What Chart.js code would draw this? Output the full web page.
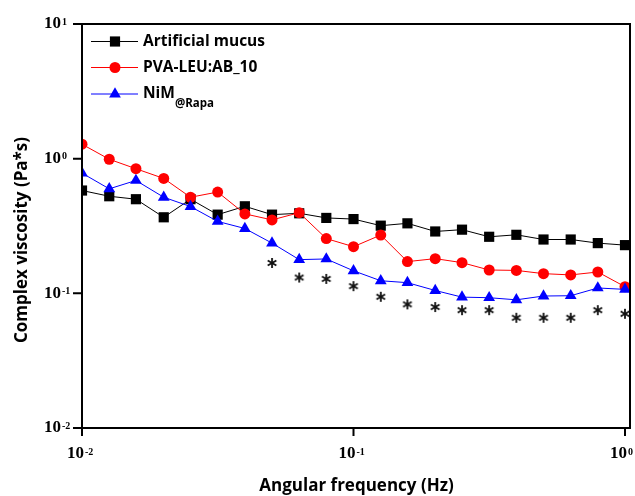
<!DOCTYPE html>
<html>
<head>
<meta charset="utf-8">
<script src="https://cdn.jsdelivr.net/npm/chart.js@4.4.1/dist/chart.umd.min.js"></script>
<style>
  html, body { margin: 0; padding: 0; background: #fff; }
  #wrap { width: 635px; height: 496px; position: relative; }
</style>
</head>
<body>
<div id="wrap"><canvas id="c"></canvas></div>
<script>
// angular frequency (Hz), 10 points per decade
const freq = [0.01, 0.0126, 0.0158, 0.02, 0.0251, 0.0316, 0.0398, 0.0501, 0.0631, 0.0794,
              0.1, 0.126, 0.158, 0.2, 0.251, 0.316, 0.398, 0.501, 0.631, 0.794, 1];
const mucus  = [0.58, 0.526, 0.50, 0.367, 0.50, 0.384, 0.443, 0.384, 0.393, 0.363,
                0.356, 0.318, 0.331, 0.288, 0.297, 0.263, 0.272, 0.251, 0.251, 0.236, 0.228];
const pvaLeu = [1.28, 0.99, 0.842, 0.713, 0.517, 0.565, 0.389, 0.351, 0.397, 0.255,
                0.222, 0.271, 0.172, 0.181, 0.169, 0.149, 0.148, 0.140, 0.137, 0.144, 0.112];
const nim    = [0.781, 0.597, 0.689, 0.517, 0.441, 0.342, 0.303, 0.236, 0.178, 0.180,
                0.147, 0.124, 0.120, 0.105, 0.0937, 0.0928, 0.0895, 0.0955, 0.096, 0.1096, 0.107];
// significance marks (*) under NiM
const starFreq  = [0.0501, 0.0631, 0.0794, 0.1, 0.126, 0.158, 0.2, 0.251, 0.316, 0.398, 0.501, 0.631, 0.794, 1];
const starLevel = [0.168, 0.131, 0.128, 0.113, 0.0943, 0.0828, 0.0791, 0.075, 0.075, 0.0658, 0.0658, 0.0658, 0.075, 0.0705];

const seriesNames = ["Artificial mucus", "PVA-LEU:AB_10", "NiM"];
const xTicks = [0.01, 0.1, 1];
const xTickExp = ["-2", "-1", "0"];
const yTicks = [0.01, 0.1, 1, 10];
const yTickExp = ["-2", "-1", "0", "1"];

function pts(xs, ys) { return xs.map((x, i) => ({ x: x, y: ys[i] })); }

// little asterisk marker
const star = document.createElement("canvas");
star.width = 12; star.height = 12;
(function () {
  const c = star.getContext("2d");
  c.strokeStyle = "#111"; c.lineWidth = 1.8; c.lineCap = "butt";
  [90, 30, 150].forEach(a => {
    const r = a * Math.PI / 180, dx = Math.cos(r) * 5, dy = Math.sin(r) * 5;
    c.beginPath(); c.moveTo(6 - dx, 6 - dy); c.lineTo(6 + dx, 6 + dy); c.stroke();
  });
})();

function pow10(ctx, x, y, exp) {
  ctx.save();
  ctx.fillStyle = "#000";
  ctx.textBaseline = "middle";
  ctx.font = "bold 17px 'Liberation Serif'";
  const w1 = ctx.measureText("10").width;
  ctx.textAlign = "left";
  ctx.fillText("10", x - w1, y);
  ctx.font = "bold 10px 'Liberation Serif'";
  ctx.textBaseline = "top";
  ctx.fillText(exp.replace("-", "\u2011"), x + 1, y - 7);
  ctx.restore();
}

const frame = {
  id: "frame",
  afterDraw(chart) {
    const ctx = chart.ctx, a = chart.chartArea;
    const xs = chart.scales.x, ys = chart.scales.y;
    const top = ys.getPixelForValue(10), bot = ys.getPixelForValue(0.01);
    const left = xs.getPixelForValue(0.01), right = xs.getPixelForValue(1) + 5;
    ctx.save();
    ctx.strokeStyle = "#000";
    ctx.lineWidth = 2;
    ctx.strokeRect(left, top, right - left, bot - top);
    ctx.beginPath();
    yTicks.forEach(v => { const y = ys.getPixelForValue(v); ctx.moveTo(left - 9, y); ctx.lineTo(left, y); });
    xTicks.forEach(v => { const x = xs.getPixelForValue(v); ctx.moveTo(x, bot); ctx.lineTo(x, bot + 8); });
    ctx.stroke();
    yTicks.forEach((v, i) => pow10(ctx, left - 21, ys.getPixelForValue(v), yTickExp[i]));
    xTicks.forEach((v, i) => pow10(ctx, xs.getPixelForValue(v) + 2, bot + 26, xTickExp[i]));

    // axis titles
    ctx.fillStyle = "#000";
    ctx.font = "bold 17px 'Open Sans'";
    ctx.textAlign = "center";
    ctx.textBaseline = "middle";
    ctx.fillText("Angular frequency (Hz)", (a.left + a.right) / 2 + 3, 486);
    ctx.save();
    ctx.translate(22, 240);
    ctx.rotate(-Math.PI / 2);
    ctx.fillText("Complex viscosity (Pa*s)", 0, 0);
    ctx.restore();

    // legend
    const ds = chart.data.datasets;
    const rows = [41.5, 67.5, 94];
    [0, 1, 2].forEach(i => {
      const d = ds[i], y = rows[i];
      ctx.strokeStyle = d.borderColor;
      ctx.fillStyle = d.borderColor;
      ctx.lineWidth = 1;
      ctx.beginPath(); ctx.moveTo(91, y); ctx.lineTo(138, y); ctx.stroke();
      Chart.helpers.drawPoint(ctx, { pointStyle: d.pointStyle, radius: d.pointRadius, borderWidth: 0 }, 115, y);
      ctx.fillStyle = "#000";
      ctx.font = "bold 15.5px 'Open Sans'";
      ctx.textAlign = "left";
      ctx.textBaseline = "middle";
      ctx.fillText(seriesNames[i], 143, y);
    });
    const wN = ctx.measureText("NiM").width;
    ctx.font = "bold 11.5px 'Open Sans'";
    ctx.fillText("@Rapa", 143 + wN, rows[2] + 10);
    ctx.restore();
  }
};

function line(label, ys, color, style, r, order) {
  return {
    label: label, data: pts(freq, ys), order: order,
    borderColor: color, backgroundColor: color, borderWidth: 1,
    pointStyle: style, pointRadius: r, pointHoverRadius: r,
    pointBackgroundColor: color, pointBorderWidth: 0,
    clip: { left: 0, top: 0, right: 6, bottom: 0 }
  };
}

new Chart(document.getElementById("c"), {
  type: "line",
  data: {
    datasets: [
      line(seriesNames[0], mucus, "#000000", "rect", 7.2, 3),
      line(seriesNames[1], pvaLeu, "#ff0000", "circle", 5.5, 2),
      line(seriesNames[2], nim, "#0000ff", "triangle", 6.8, 1),
      {
        label: "*", data: pts(starFreq, starLevel), showLine: false, order: 0,
        pointStyle: star, pointRadius: 6, clip: false
      }
    ]
  },
  options: {
    responsive: true, maintainAspectRatio: false, animation: false,
    layout: { padding: { top: 24, right: 10, left: 0, bottom: 0 } },
    plugins: { legend: { display: false }, tooltip: { enabled: false } },
    scales: {
      x: {
        type: "logarithmic", min: 0.01, max: 1,
        grid: { display: false }, border: { display: false },
        ticks: { display: false },
        afterFit: s => { s.height = 68; }
      },
      y: {
        type: "logarithmic", min: 0.01, max: 10,
        grid: { display: false }, border: { display: false },
        ticks: { display: false },
        afterFit: s => { s.width = 82; }
      }
    }
  },
  plugins: [frame]
});
</script>
</body>
</html>
